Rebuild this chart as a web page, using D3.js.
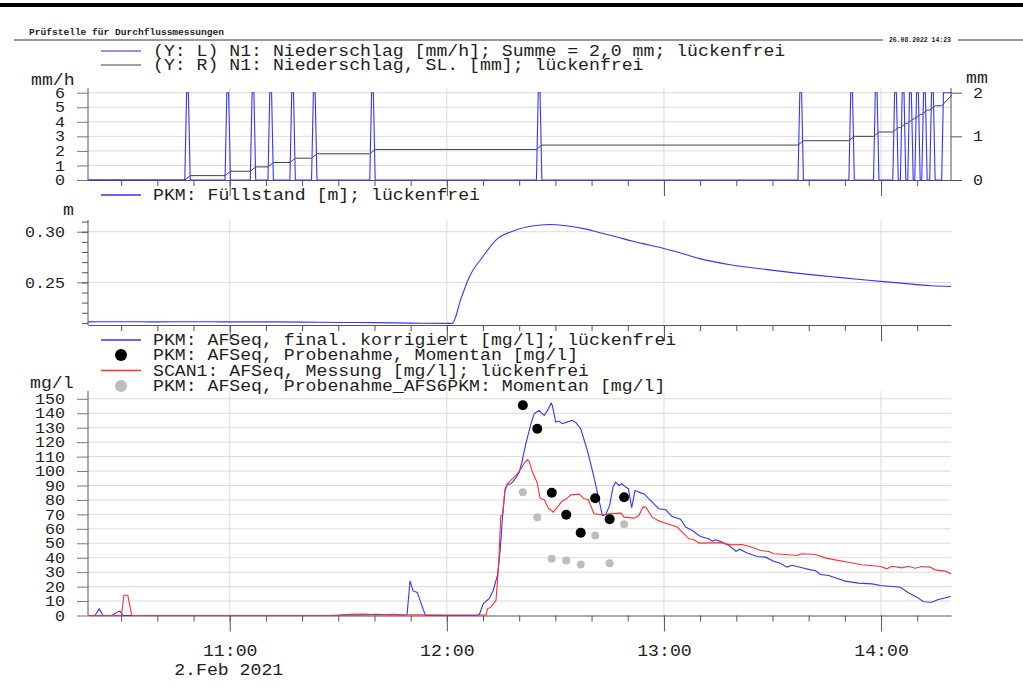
<!DOCTYPE html>
<html><head><meta charset="utf-8">
<script src="https://cdn.jsdelivr.net/npm/d3@7"></script>
<style>
html,body{margin:0;padding:0;background:#fff;}
svg{display:block;}
text{font-family:"Liberation Mono","Courier New",monospace;fill:#1e1e1e;}
</style></head><body>
<svg id="chart" width="1023" height="693"></svg>
<script>
// ---------------- DATA ----------------
const headerTitle = "Prüfstelle für Durchflussmessungen";
const headerDate = "26.08.2022 14:23";
const timeDomain = ["10:20:50", "14:19:20"];
const hourTicks = ["11:00", "12:00", "13:00", "14:00"];
const hourLabels = ["11:00", "12:00", "13:00", "14:00"];
const dateLabel = "2.Feb 2021";

// Panel 1: precipitation
const rainLegend = ["(Y: L) N1: Niederschlag [mm/h]; Summe = 2,0 mm; lückenfrei",
                    "(Y: R) N1: Niederschlag, SL. [mm]; lückenfrei"];
const rainTimes = ["10:48:20","10:59:27","11:06:26","11:11:19","11:17:23","11:23:22","11:39:27",
                   "12:25:31","13:37:48","13:51:52","13:58:40","14:04:00","14:06:06","14:08:08",
                   "14:10:04","14:12:00","14:14:12","14:17:30"];
const rainMinutes = [1,1,1,1,1,1,1,1,1,1,1,1,1,1,1,1,1,3];
const rainRate = [6,6,6,6,6,6,6,6,6,6,6,6,6,6,6,6,6,6];
const rainCumulative = [0.1,0.2,0.3,0.4,0.5,0.6,0.7,0.8,0.9,1.0,1.1,1.2,1.3,1.4,1.5,1.6,1.7,2.0];
const rainTicksLeft = [0,1,2,3,4,5,6];
const rainTicksRight = [0,1,2];

// Panel 2: level
const levelLegend = "PKM: Füllstand [m]; lückenfrei";
const levelTimes = ["10:20:50","10:30","10:40","10:50","11:00","11:10","11:20","11:30","11:40","11:50",
  "12:00","12:01:30","12:03:55","12:06:15","12:09:55","12:13:35","12:18:35","12:23:35","12:28:15","12:33",
  "12:38:30","12:42:05","12:46:45","12:51:10","12:53:55","13:00","13:05","13:09:40","13:18:45","13:28:10",
  "13:37:15","13:46:20","13:55:45","14:04:50","14:13:55","14:19:20"];
const levelValues = [0.2110,0.2112,0.2110,0.2112,0.2110,0.2110,0.2108,0.2104,0.2103,0.2098,
  0.2095,0.2095,0.2340,0.2556,0.2753,0.2918,0.3010,0.3056,0.3072,0.3059,
  0.3026,0.2993,0.2951,0.2908,0.2885,0.2835,0.2786,0.2737,0.2671,0.2628,
  0.2589,0.2556,0.2523,0.2495,0.2467,0.2460];
const levelTicks = [0.25, 0.30];

// Panel 3: AFSeq
const afsLegend = ["PKM: AFSeq, final. korrigiert [mg/l]; lückenfrei",
                   "PKM: AFSeq, Probenahme, Momentan [mg/l]",
                   "SCAN1: AFSeq, Messung [mg/l]; lückenfrei",
                   "PKM: AFSeq, Probenahme_AFS6PKM: Momentan [mg/l]"];
const afsFinal = [["10:20:50",0],["10:22:45",0],["10:23:55",4.6],["10:25:00",0],["10:27:30",0],["10:29:00",2.5],
  ["10:29:40",3],["10:30:30",0],["11:28:00",0],["11:32:00",0.5],["11:36:00",0.3],["11:40:00",0.8],["11:44:00",0.6],
  ["11:48:00",0.3],["11:49:00",0.5],["11:49:50",24],["11:50:40",17],["11:51:50",16],["11:54:05",0],["12:08:00",0],
  ["12:09:00",0.7],["12:10:05",8.3],["12:11:45",11.8],["12:12:50",17.5],["12:14:00",27.9],["12:14:45",45],
  ["12:15:25",69.2],["12:16:05",86.5],["12:16:45",90.7],["12:17:40",91.2],["12:18:10",92.3],["12:19:05",95.3],
  ["12:20:00",99.2],["12:20:45",106.2],["12:21:50",118.9],["12:23:15",132.8],["12:24:10",139.7],["12:25:30",142],
  ["12:26:10",140.2],["12:26:55",138.5],["12:27:50",142],["12:28:50",147],["12:29:10",145.4],["12:30:05",133.9],
  ["12:31:00",134.6],["12:31:55",132.8],["12:32:55",133.7],["12:34:40",135.1],["12:35:40",133.5],["12:37:00",129.3],
  ["12:38:50",114.3],["12:40:40",95.8],["12:42:05",79.6],["12:43:00",69.2],["12:43:55",69.9],["12:45:00",76.2],
  ["12:45:55",88.9],["12:46:40",92.3],["12:47:35",90],["12:48:20",91.2],["12:49:25",88.9],["12:50:10",87.8],
  ["12:51:05",74.6],["12:52:00",86.5],["12:53:05",85.4],["12:54:30",84.2],["12:56:20",79.6],["12:58:35",73.9],
  ["13:00:30",73.2],["13:02:15",68.5],["13:04:35",66.7],["13:06:00",61.2],["13:07:50",58.8],["13:10:05",54.7],
  ["13:12:25",53.1],["13:13:20",51.5],["13:14:15",52.4],["13:16:05",50.8],["13:17:55",48.5],["13:19:55",44.5],
  ["13:20:55",45.9],["13:23:00",43.2],["13:25:45",40.8],["13:28:05",40.4],["13:30:20",37.6],["13:32:10",36.2],
  ["13:34:00",33.5],["13:35:25",34.8],["13:38:10",33],["13:40:30",31.6],["13:41:50",31.1],["13:43:15",28.4],
  ["13:45:30",27.7],["13:47:20",26.1],["13:50:05",23.8],["13:53:45",22.4],["13:57:30",21.9],["13:59:55",20.8],
  ["14:03:00",20.1],["14:05:20",19.6],["14:07:35",15.7],["14:09:55",12.7],["14:11:45",9.5],["14:14:00",9.2],
  ["14:15:50",11.1],["14:19:20",13.2]];
const afsScan = [["10:20:50",0],["10:30:05",0],["10:30:45",14],["10:31:50",14],["10:32:55",0],["11:30:00",0],
  ["11:33:00",0.8],["11:37:00",1],["11:41:00",0.5],["11:45:00",0.8],["11:48:00",0.5],["11:52:00",0.4],["12:00:00",0.3],
  ["12:10:50",0.3],["12:11:15",4.6],["12:12:10",5.8],["12:13:35",10.4],["12:14:15",32.3],["12:14:55",69.2],
  ["12:15:25",69.7],["12:16:05",87.7],["12:16:45",91.2],["12:17:40",93.5],["12:19:05",97],["12:20:30",101.6],
  ["12:21:25",105.7],["12:22:15",107.8],["12:22:45",106.7],["12:23:40",99.3],["12:24:55",92.3],["12:25:45",81.2],
  ["12:26:55",80.1],["12:28:05",74.3],["12:29:25",71.5],["12:30:35",75],["12:31:45",78.9],["12:33:05",80.8],
  ["12:34:15",83.5],["12:36:35",84],["12:37:55",80.8],["12:39:05",80.3],["12:40:40",70.4],["12:43:00",69.7],
  ["12:44:50",70.4],["12:48:05",70.9],["12:49:00",68.1],["12:51:45",67.4],["12:53:05",69.2],["12:54:10",75],
  ["12:55:00",75],["12:56:45",68.1],["12:58:35",65.5],["13:00:55",63.5],["13:03:40",61.2],["13:05:30",56.5],
  ["13:06:55",53.1],["13:08:15",52.6],["13:09:40",50.1],["13:12:25",50.3],["13:16:05",50.3],["13:18:25",48.9],
  ["13:21:35",49.2],["13:24:20",47.3],["13:26:40",45],["13:29:00",44.3],["13:30:20",42.7],["13:33:35",42.2],
  ["13:36:45",41.5],["13:38:10",42.7],["13:41:50",42.2],["13:44:35",39.9],["13:47:20",38.5],["13:51:00",36.9],
  ["13:54:40",35.1],["13:59:55",33.9],["14:01:35",32.3],["14:03:00",34.1],["14:05:45",33],["14:07:35",34.1],
  ["14:09:25",32.7],["14:11:15",33.9],["14:13:35",33.5],["14:14:55",31.6],["14:17:45",30.7],["14:19:20",28.9]];
const sampleTimes = ["12:21","12:25","12:29","12:33","12:37","12:41","12:45","12:49"];
const sampleValues = [145.5,129.3,85.0,69.8,57.3,81.2,66.7,81.9];
const sample6Values = [85.4,68.1,39.2,38.1,35.3,55.4,36.2,63.2];
const afsTicks = [0,10,20,30,40,50,60,70,80,90,100,110,120,130,140,150];

// ---------------- DRAW ----------------
const P = d3.timeParse("%Y-%m-%d %H:%M:%S");
const T = s => P("2021-02-02 " + (s.length === 5 ? s + ":00" : s));
const BLUE = "#3535ff", RED = "#ff3030", GRID = "#dadada", AX = "#555", TICK = "#777";
const L = 88, R = 951;
const FS = 16, CW = 10.9;      // label font size / character cell width
const TFS = 14.5, TCW = 10;    // tick label font size / character cell width

const svg = d3.select("#chart");
const x = d3.scaleTime().domain(timeDomain.map(T)).range([L, R]);

function fit(sel, cw) {
  sel.each(function() {
    const n = this.textContent.length;
    if (n) d3.select(this).attr("textLength", n * cw).attr("lengthAdjust", "spacingAndGlyphs");
  });
  return sel;
}
function label(xp, yp, s, anchor) {
  return fit(svg.append("text").attr("x",xp).attr("y",yp).attr("font-size",FS)
    .attr("text-anchor", anchor || "start").text(s), CW);
}

// header
svg.append("rect").attr("x",0).attr("y",3).attr("width",1023).attr("height",4).attr("fill","#000");
svg.append("line").attr("x1",14).attr("x2",883).attr("y1",40).attr("y2",40).attr("stroke","#999").attr("stroke-width",2);
svg.append("line").attr("x1",958).attr("x2",1023).attr("y1",40).attr("y2",40).attr("stroke","#999").attr("stroke-width",2);
svg.append("text").attr("x",29).attr("y",35).attr("font-size",9).attr("font-weight","bold")
  .attr("textLength",195).attr("lengthAdjust","spacingAndGlyphs").text(headerTitle);
svg.append("text").attr("x",889).attr("y",42).attr("font-size",6.5).attr("font-weight","bold")
  .attr("textLength",62).attr("lengthAdjust","spacingAndGlyphs").text(headerDate);

function legendLine(y, color, s) {
  svg.append("line").attr("x1",101).attr("x2",141).attr("y1",y).attr("y2",y).attr("stroke",color).attr("stroke-width",1.3);
  label(153, y + 5, s);
}
function legendDot(y, color, r, s) {
  svg.append("circle").attr("cx",121).attr("cy",y).attr("r",r).attr("fill",color);
  label(153, y + 5, s);
}

function hourGrid(top, bottom) {
  svg.append("g").selectAll("line").data(hourTicks.map(T)).join("line")
    .attr("x1",d=>x(d)).attr("x2",d=>x(d)).attr("y1",top).attr("y2",bottom)
    .attr("stroke",GRID).attr("stroke-width",1);
}
function hGrid(scale, vals) {
  svg.append("g").selectAll("line").data(vals).join("line")
    .attr("x1",L).attr("x2",R).attr("y1",d=>scale(d)).attr("y2",d=>scale(d))
    .attr("stroke",GRID).attr("stroke-width",1);
}
function xAxis(y, labels) {
  const minor = svg.append("g").attr("transform",`translate(0,${y})`)
    .call(d3.axisBottom(x).ticks(d3.timeMinute.every(10)).tickSize(6).tickSizeOuter(0).tickFormat(""));
  const major = svg.append("g").attr("transform",`translate(0,${y})`)
    .call(d3.axisBottom(x).tickValues(hourTicks.map(T)).tickSize(16).tickSizeOuter(0).tickPadding(13)
      .tickFormat((d,i)=> labels ? hourLabels[i] : ""));
  [minor, major].forEach(g => {
    g.select(".domain").attr("stroke",AX);
    g.selectAll(".tick line").attr("stroke",AX);
    g.selectAll("text").attr("font-size",FS).attr("font-family",null).attr("fill","#1e1e1e");
  });
  fit(major.selectAll("text"), CW);
  major.select(".domain").remove();
}
function styleTicks(g) {
  g.select(".domain").remove();
  g.selectAll(".tick line").attr("stroke",TICK);
  g.selectAll("text").attr("font-size",TFS).attr("font-family",null).attr("fill","#1e1e1e");
  fit(g.selectAll("text"), TCW);
}
function yAxisLeft(scale, ticks, fmt, top, bottom) {
  svg.append("line").attr("x1",L).attr("x2",L).attr("y1",top).attr("y2",bottom).attr("stroke",AX);
  const g = svg.append("g").attr("transform",`translate(${L},0)`)
    .call(d3.axisLeft(scale).tickValues(ticks).tickSize(11).tickPadding(12).tickSizeOuter(0).tickFormat(fmt));
  styleTicks(g);
  return g;
}
function clip(id, top, bottom) {
  svg.append("clipPath").attr("id",id).append("rect").attr("x",L).attr("y",top).attr("width",R-L+1).attr("height",bottom-top);
  return `url(#${id})`;
}

// ===== Panel 1 =====
const yRain = d3.scaleLinear().domain([0,6]).range([180, 92.7]);
const yCum = d3.scaleLinear().domain([0,2]).range([180, 92.7]);
legendLine(51, "#6e6ef0", rainLegend[0]);
legendLine(65, "#808080", rainLegend[1]);
label(31, 85, "mm/h");
label(966, 83, "mm");
hGrid(yRain, rainTicksLeft.filter(d=>d>0));
hourGrid(88, 180);
yAxisLeft(yRain, rainTicksLeft, d3.format("d"), 88, 180);
// right axis
svg.append("line").attr("x1",R).attr("x2",R).attr("y1",88).attr("y2",180).attr("stroke",AX);
const gr = svg.append("g").attr("transform",`translate(${R},0)`)
  .call(d3.axisRight(yCum).tickValues(rainTicksRight).tickSize(11).tickPadding(11).tickSizeOuter(0).tickFormat(d3.format("d")));
styleTicks(gr);
gr.selectAll(".tick line").attr("stroke",AX);
xAxis(180, false);

const d0 = x.domain()[0], d1 = x.domain()[1];
const sec = 1000;
const rainPts = [[d0,0]], cumPts = [[d0,0]];
let prevCum = 0;
rainTimes.forEach((t,i) => {
  const a = new Date(+T(t) - 30*sec), b = new Date(+a + rainMinutes[i]*60*sec);
  rainPts.push([new Date(+a-15*sec),0],[new Date(+a+15*sec),rainRate[i]],[new Date(+b-15*sec),rainRate[i]],[new Date(+b+15*sec),0]);
  cumPts.push([new Date(+a-15*sec),prevCum],[new Date(+b+15*sec),rainCumulative[i]]);
  prevCum = rainCumulative[i];
});
rainPts.push([new Date(+d1+60*sec),0]);
cumPts.push([new Date(+d1+60*sec),prevCum]);
const c1 = clip("c1", 85, 183);
svg.append("path").attr("clip-path",c1).attr("fill","none").attr("stroke","#404040").attr("stroke-width",1)
  .attr("d", d3.line().x(d=>x(d[0])).y(d=>yCum(d[1]))(cumPts));
svg.append("path").attr("clip-path",c1).attr("fill","none").attr("stroke",BLUE).attr("stroke-width",1.1)
  .attr("d", d3.line().x(d=>x(d[0])).y(d=>yRain(d[1]))(rainPts));

// ===== Panel 2 =====
const yLevel = d3.scaleLinear().domain([0.21,0.31]).range([322.9, 221.6]);
legendLine(195, BLUE, levelLegend);
label(63, 215, "m");
hGrid(yLevel, levelTicks);
hourGrid(220, 325);
yAxisLeft(yLevel, levelTicks, d3.format(".2f"), 220, 325);
svg.append("g").attr("transform",`translate(${L},0)`)
  .call(d3.axisLeft(yLevel).tickValues(d3.range(21,32).map(d=>d/100)).tickSize(6).tickSizeOuter(0).tickFormat(""))
  .call(g=>{g.select(".domain").remove(); g.selectAll(".tick line").attr("stroke",AX);});
xAxis(325, false);
const c2 = clip("c2", 215, 325);
svg.append("path").attr("clip-path",c2).attr("fill","none").attr("stroke",BLUE).attr("stroke-width",1.1)
  .attr("d", d3.line().curve(d3.curveMonotoneX).x((d,i)=>x(T(levelTimes[i]))).y(d=>yLevel(d))(levelValues));

// ===== Panel 3 =====
const yAfs = d3.scaleLinear().domain([0,155]).range([615.5, 391.6]);
legendLine(340, BLUE, afsLegend[0]);
legendDot(355, "#000", 6, afsLegend[1]);
legendLine(370.5, RED, afsLegend[2]);
legendDot(386, "#bdbdbd", 6, afsLegend[3]);
label(30, 388, "mg/l");
hGrid(yAfs, afsTicks.filter(d=>d>0));
hourGrid(391, 615.5);
yAxisLeft(yAfs, afsTicks, d3.format("d"), 391, 615.5);
xAxis(615.5, true);
label(x(T(hourTicks[0]))-1, 675, dateLabel, "middle");
const c3 = clip("c3", 385, 617);
const lineTV = d3.line().x(d=>x(T(d[0]))).y(d=>yAfs(d[1]));
svg.append("path").attr("clip-path",c3).attr("fill","none").attr("stroke",BLUE).attr("stroke-width",1.1).attr("d", lineTV(afsFinal));
svg.append("path").attr("clip-path",c3).attr("fill","none").attr("stroke",RED).attr("stroke-width",1.1).attr("d", lineTV(afsScan));
svg.append("g").selectAll("circle").data(sampleValues).join("circle")
  .attr("cx",(d,i)=>x(T(sampleTimes[i]))).attr("cy",d=>yAfs(d)).attr("r",5).attr("fill","#000");
svg.append("g").selectAll("circle").data(sample6Values).join("circle")
  .attr("cx",(d,i)=>x(T(sampleTimes[i]))).attr("cy",d=>yAfs(d)).attr("r",4).attr("fill","#bdbdbd");
</script>
</body></html>
